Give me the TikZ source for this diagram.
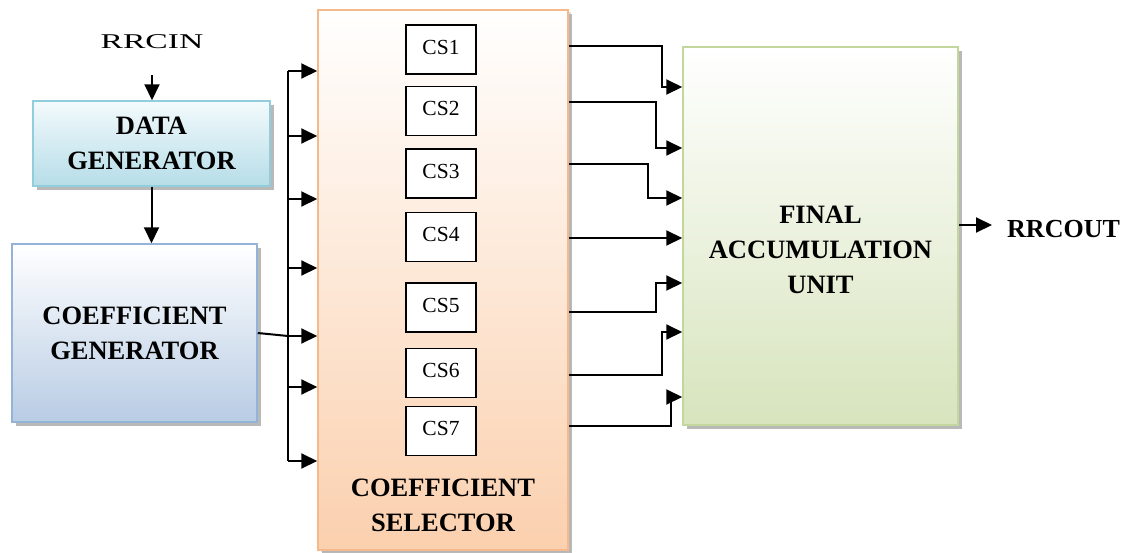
\documentclass[tikz,border=0pt]{standalone}
\usepackage{fontspec}
\setmainfont{Liberation Serif}
\usetikzlibrary{arrows.meta,shadows}
\definecolor{dgtop}{HTML}{F3FAFC}
\definecolor{dgbot}{HTML}{B6DDE8}
\definecolor{dgline}{HTML}{92CDDC}
\definecolor{cgbot}{HTML}{B8CCE4}
\definecolor{cgline}{HTML}{95B3D7}
\definecolor{csbot}{HTML}{FBD0AE}
\definecolor{csline}{HTML}{F6B98C}
\definecolor{fabot}{HTML}{D7E4BD}
\definecolor{faline}{HTML}{C3D69B}
\begin{document}
\begin{tikzpicture}[x=1pt,y=-1pt,
 blk/.style={rectangle, line width=1.5pt, inner sep=0pt, align=center,
   font=\bfseries\fontsize{26.5}{35}\selectfont,
   drop shadow={shadow xshift=4pt, shadow yshift=-4pt, fill=black!50, opacity=0.55}},
 lbl/.style={align=center, inner sep=0pt, font=\bfseries\fontsize{26.5}{35}\selectfont},
 csbox/.style={draw, line width=1.2pt, fill=white, minimum width=70pt, minimum height=49pt,
   inner sep=0pt, font=\fontsize{21.5}{25}\selectfont},
 wire/.style={line width=2pt},
 arr/.style={wire, -{Triangle[length=16pt,width=15pt]}},
]
\useasboundingbox (0,0) rectangle (1125,552);

% blocks
\node[blk, draw=dgline, top color=dgtop, bottom color=dgbot,
  minimum width=237pt, minimum height=85pt] (dg) at (151.5,143.5) {DATA\\GENERATOR};
\node[blk, draw=cgline, top color=white, bottom color=cgbot,
  minimum width=245pt, minimum height=178pt] (cg) at (134.5,333) {COEFFICIENT\\GENERATOR};
\node[blk, draw=csline, top color=white, bottom color=csbot,
  drop shadow={shadow xshift=3pt, shadow yshift=-2pt, fill=black!30, opacity=0.4},
  minimum width=250pt, minimum height=540pt] (sel) at (443,280) {};
\node[lbl] (seltxt) at (443,505) {COEFFICIENT\\SELECTOR};
\node[blk, draw=faline, top color=white, bottom color=fabot,
  minimum width=275pt, minimum height=378pt] (fau) at (820.5,236) {};
\node[lbl] (fautxt) at (820.5,250) {FINAL\\ACCUMULATION\\UNIT};

% CS boxes
\node[csbox] (cs1) at (441,49.5) {\raisebox{5pt}{CS1}};
\node[csbox] (cs2) at (441,111) {\raisebox{5pt}{CS2}};
\node[csbox] (cs3) at (441,173.5) {\raisebox{5pt}{CS3}};
\node[csbox] (cs4) at (441,237) {\raisebox{5pt}{CS4}};
\node[csbox] (cs5) at (441,307.5) {\raisebox{5pt}{CS5}};
\node[csbox] (cs6) at (441,373) {\raisebox{5pt}{CS6}};
\node[csbox] (cs7) at (441,431) {\raisebox{5pt}{CS7}};

% input
\node[inner sep=0pt, font=\fontsize{21}{25}\selectfont] (rrcin) at (152,42) {\scalebox{1.6}[1]{RRCIN}};
\draw[arr] ([yshift=-26pt]rrcin.south) -- (rrcin.south |- dg.north);
\draw[arr] (dg.south) -- (dg.south |- cg.north);

% bus
\coordinate (b1) at (288,71);
\coordinate (b2) at (288,136);
\coordinate (b3) at (288,199);
\coordinate (b4) at (288,268);
\coordinate (b5) at (288,336);
\coordinate (b6) at (288,387);
\coordinate (b7) at (288,461);
\draw[wire] (b1) -- (b7);
\draw[wire] (cg.east |- 0,333) -- (b5);
\foreach \i in {1,...,7} { \draw[arr] (b\i) -- (sel.west |- b\i); }

% outputs
\coordinate (j1) at (662,46);  \coordinate (k1) at (662,87);
\coordinate (j2) at (656,102); \coordinate (k2) at (656,148);
\coordinate (j3) at (648,164); \coordinate (k3) at (648,198);
\coordinate (j5) at (656,312); \coordinate (k5) at (656,283);
\coordinate (j6) at (662,375); \coordinate (k6) at (662,332);
\coordinate (j7) at (671,426); \coordinate (k7) at (671,397);
\foreach \i in {1,2,3,5,6,7} {
  \draw[arr] (sel.east |- j\i) -- (j\i) -- (k\i) -- (fau.west |- k\i);
}
\draw[arr] (sel.east |- 0,238) -- (fau.west |- 0,238);

% output
\coordinate (out) at (992,225);
\draw[arr] (fau.east |- out) -- (out);
\node[lbl, anchor=west, font=\bfseries\fontsize{26}{35}\selectfont] (rrcout) at (1007,229) {RRCOUT};
\end{tikzpicture}
\end{document}
